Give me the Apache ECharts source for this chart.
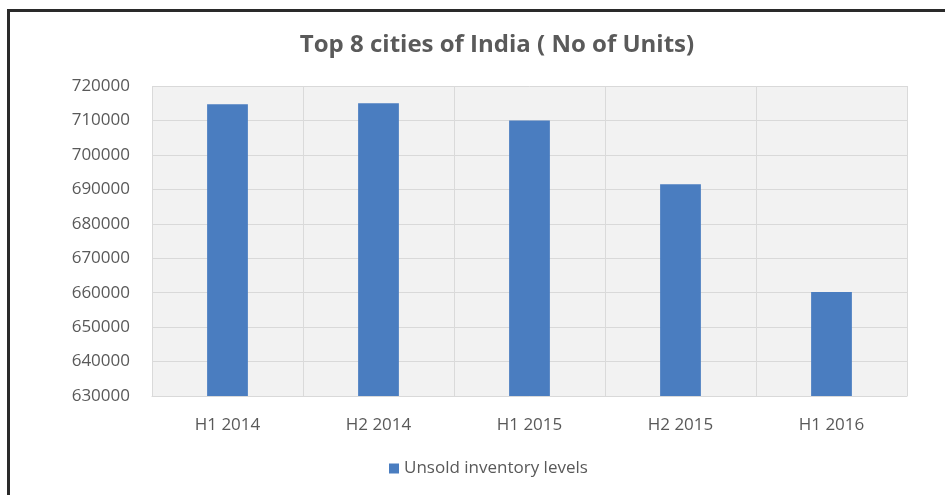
<!DOCTYPE html>
<html>
<head>
<meta charset="utf-8">
<script src="https://cdn.jsdelivr.net/npm/echarts@6/dist/echarts.min.js"></script>
<style>
  html, body { margin: 0; padding: 0; background: #fff; }
  #frame { position: absolute; left: 7px; top: 9px; width: 945px; height: 495px;
           border-top: 3px solid #2a2a2a; border-left: 3px solid #2a2a2a; }
  #chart { position: absolute; left: 0; top: 0; width: 945px; height: 495px; }
</style>
</head>
<body>
<div id="frame"></div>
<div id="chart"></div>
<script>
// data
const categories = ['H1 2014', 'H2 2014', 'H1 2015', 'H2 2015', 'H1 2016']
const unsoldUnits = [714700, 715000, 710000, 691500, 660200]
const seriesName = 'Unsold inventory levels'

const chart = echarts.init(document.getElementById('chart'))

const option = {
  animation: false,
  title: {
    text: 'Top 8 cities of India ( No of Units)',
    left: 492,
    textAlign: 'center',
    top: 28,
    textStyle: {
      fontFamily: 'Open Sans',
      fontSize: 24,
      fontWeight: 'bold',
      color: '#5a5a5a'
    }
  },
  legend: {
    data: [seriesName],
    bottom: 13,
    left: 384,
    icon: 'rect',
    itemWidth: 10,
    itemHeight: 10,
    itemGap: 5,
    textStyle: { fontFamily: 'Open Sans', fontSize: 17, color: '#595959' }
  },
  grid: {
    left: 152,
    right: 38,
    top: 86,
    bottom: 99,
    show: true,
    backgroundColor: '#f2f2f2',
    borderWidth: 0
  },
  xAxis: {
    type: 'category',
    data: categories,
    axisLine: { show: true, lineStyle: { color: '#d9d9d9', width: 1 } },
    axisTick: { show: false },
    splitLine: { show: true, lineStyle: { color: '#dadada', width: 1 } },
    axisLabel: {
      fontFamily: 'Open Sans',
      fontSize: 17,
      color: '#595959',
      margin: 21
    }
  },
  yAxis: {
    type: 'value',
    min: 630000,
    max: 720000,
    interval: 10000,
    axisLine: { show: false },
    axisTick: { show: false },
    splitLine: { lineStyle: { color: '#d9d9d9', width: 1 } },
    axisLabel: {
      fontFamily: 'Open Sans',
      fontSize: 17,
      color: '#595959',
      margin: 22,
      formatter: (value) => String(value)
    }
  },
  series: [
    {
      name: seriesName,
      type: 'bar',
      data: unsoldUnits,
      barWidth: '27%',
      itemStyle: { color: '#4a7dc0' }
    }
  ]
}

chart.setOption(option)
</script>
</body>
</html>
